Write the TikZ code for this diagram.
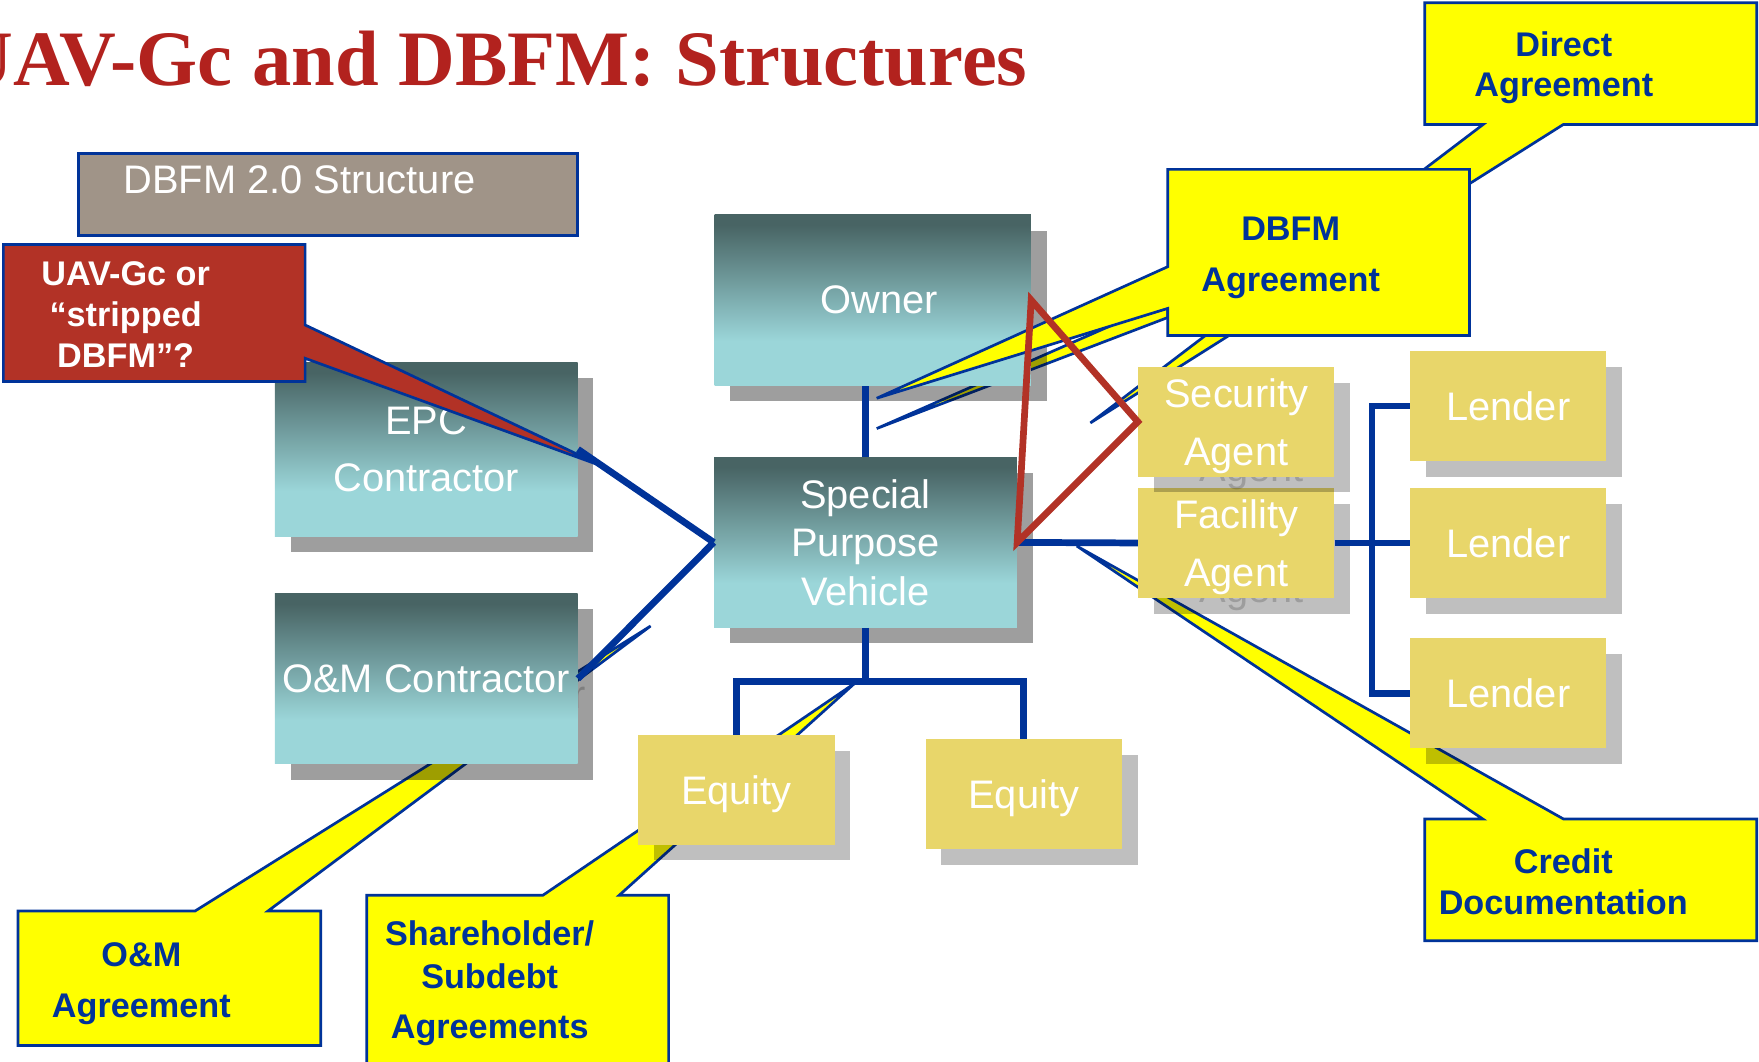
\documentclass[tikz,border=0pt]{standalone}
\usepackage{fontspec}
\setmainfont{Liberation Sans}
\newfontfamily\titlefont{Liberation Serif}
\definecolor{navy}{RGB}{0,51,153}
\definecolor{titlered}{RGB}{178,34,30}
\definecolor{callred}{RGB}{178,50,38}
\definecolor{taupe}{RGB}{160,148,136}
\definecolor{tealtop}{RGB}{72,100,100}
\definecolor{tealbot}{RGB}{155,214,217}
\definecolor{gold}{RGB}{232,214,106}
\definecolor{callyellow}{RGB}{255,255,0}
\pgfdeclareverticalshading{tealfade}{100bp}{color(0bp)=(tealbot); color(38bp)=(tealbot); color(72bp)=(tealtop); color(100bp)=(tealtop)}

\begin{document}
\begin{tikzpicture}[x=1pt, y=-1pt,
    tealsize/.style={rectangle, minimum width=270, minimum height=152, inner sep=0, align=center, text depth=0pt, font=\fontsize{35.5}{51}\selectfont},
    tealbox/.style={tealsize, shade, shading=tealfade, text=white},
    tealshadow/.style={tealsize, fill=black, fill opacity=0.38, text=black, text opacity=0.2},
    goldsize/.style={rectangle, minimum width=175, minimum height=98, inner sep=0, align=center, text depth=0pt, font=\fontsize{35.5}{52}\selectfont},
    goldbox/.style={goldsize, fill=gold, text=white},
    goldshadow/.style={goldsize, fill=black, fill opacity=0.25, text=black, text opacity=0.18},
    link/.style={navy, line width=6},
    redline/.style={callred, line width=6},
    agreebox/.style={fill=callyellow, draw=navy, line width=2.4},
    calltext/.style={text=navy, inner sep=0, align=center, text depth=0pt, font=\fontsize{30.5}{36}\selectfont\bfseries}]

    \useasboundingbox (0,0) rectangle (1568,946);
    \clip (0,0) rectangle (1568,946);

    \node[anchor=base west, inner sep=0, text=titlered, font=\titlefont\fontsize{70}{70}\selectfont\bfseries] (title) at (-39,75.8) {UAV-Gc and DBFM: Structures};

    \node[draw=navy, line width=3, fill=taupe, minimum width=445, minimum height=73, inner sep=0] (struct) at (292.5,173.5) {};
    \node[anchor=west, inner sep=0, text=white, font=\fontsize{35.5}{40}\selectfont] (structtxt) at (110,160.5) {DBFM 2.0 Structure};

    \coordinate (dtip) at (972,377);
    \filldraw[agreebox] (1270,2.4) -- (1566,2.4) -- (1566,111) -- (1393.5,111) -- (dtip) -- (1322,111) -- (1270,111) -- cycle;
    \node[calltext] (directtxt) at (1394,57) {Direct\\Agreement};

    \coordinate (ctip) at (959.8,486.7);
    \filldraw[agreebox] (1270,730) -- (1321.7,730) -- (ctip) -- (1393.6,730) -- (1566,730) -- (1566,838.5) -- (1270,838.5) -- cycle;
    \node[calltext] (credittxt) at (1393.5,786) {Credit\\Documentation};

    \coordinate (otip) at (580,558);
    \filldraw[agreebox] (16,812) -- (174,812) -- (otip) -- (239,812) -- (286,812) -- (286,932) -- (16,932) -- cycle;
    \node[calltext, font=\fontsize{30.5}{45}\selectfont\bfseries] (omtxt) at (126,873.5) {O\&M\\Agreement};

    \coordinate (stip) at (762,609);
    \filldraw[agreebox] (327,798) -- (484,798) -- (stip) -- (552,798) -- (596,798) -- (596,952) -- (327,952) -- cycle;
    \node[calltext, font=\fontsize{30.5}{38}\selectfont\bfseries] (sharetxt) at (436.5,873.5) {Shareholder/\\Subdebt\\[7pt]Agreements};

    \coordinate (btip2) at (781.5,382);
    \filldraw[agreebox] (1041,268) -- (btip2) -- (1041,283) -- cycle;

    \node[tealshadow, minimum width=282] (owner-sh) at (792,281.5) {};
    \node[tealbox, minimum width=282] (owner) at (778,267.5) {\hspace*{12pt}Owner};
    \node[tealshadow, minimum height=155] (epc-sh) at (394,414.5) {};
    \node[tealbox, minimum height=155] (epc) at (380,400.5) {EPC\\Contractor};
    \node[tealshadow] (om-sh) at (394,619) {O\&M Contractor};
    \node[tealbox] (om) at (380,605) {O\&M Contractor};
    \node[tealshadow] (spv-sh) at (785.5,497.5) {};
    \node[tealbox, font=\fontsize{35.5}{43}\selectfont] (spv) at (771.5,483.5) {Special\\Purpose\\Vehicle};

    \node[goldshadow] (fa-sh) at (1116,498) {Facility\\Agent};
    \node[goldbox] (fa) at (1102,484) {Facility\\Agent};
    \node[goldshadow] (sa-sh) at (1116,390) {Security\\Agent};
    \node[goldbox] (sa) at (1102,376) {Security\\Agent};
    \node[goldshadow] (l1-sh) at (1358.5,376) {};
    \node[goldbox] (l1) at (1344.5,362) {Lender};
    \node[goldshadow] (l2-sh) at (1358.5,498) {};
    \node[goldbox] (l2) at (1344.5,484) {Lender};
    \node[goldshadow] (l3-sh) at (1358.5,632) {};
    \node[goldbox] (l3) at (1344.5,618) {Lender};
    \node[goldshadow] (eq1-sh) at (670.5,718) {};
    \node[goldbox] (eq1) at (656.5,704) {Equity};
    \node[goldshadow] (eq2-sh) at (926.5,722) {};
    \node[goldbox] (eq2) at (912.5,708) {Equity};

    \draw[link] (spv.north) -- (spv.north |- owner.south);
    \draw[link] (spv.south) -- ++(0,48) coordinate (eqbus);
    \draw[link] (eq1.north) |- (eqbus) -| (eq2.north);
    \draw[link] (spv.east) -- (fa.west);
    \coordinate (lbus) at (1223,484);
    \draw[link] (fa.east) -- (l2.west);
    \draw[link] (l1.west) -| (lbus) |- (l3.west);
    \draw[link] (epc.east) -- (spv.west);
    \draw[link] (om.east) -- (spv.west);

    \coordinate (btip) at (781.5,355);
    \filldraw[agreebox] (1041,151) -- (1310,151) -- (1310,299) -- (1041,299) -- (1041,274.9) -- (btip) -- (1041,237.7) -- cycle;
    \node[calltext, font=\fontsize{30.5}{45}\selectfont\bfseries] (dbfmtxt) at (1150.5,226.5) {DBFM\\Agreement};

    \coordinate (rtip) at (538,416);
    \filldraw[fill=callred, draw=navy, line width=2.4] (3,218) -- (272,218) -- (272,289.7) -- (rtip) -- (272,319.4) -- (272,340) -- (3,340) -- cycle;
    \node[calltext, text=white, font=\fontsize{30.5}{36.5}\selectfont\bfseries] (uavtxt) at (112,280.5) {UAV-Gc or\\“stripped\\DBFM”?};

    \draw[redline] (owner.east) -- (sa.west) -- (spv.east) -- cycle;
\end{tikzpicture}
\end{document}
